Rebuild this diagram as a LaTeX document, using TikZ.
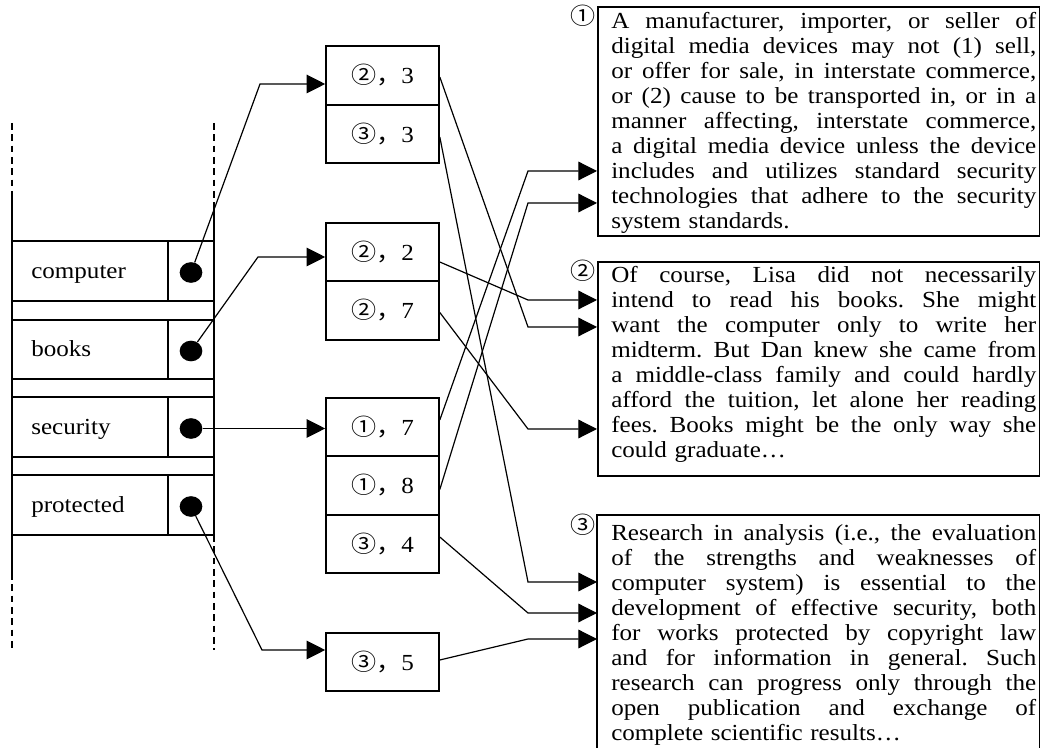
\documentclass[tikz,border=0pt]{standalone}
\usepackage{fontspec}
\setmainfont{Liberation Serif}[FakeStretch=1.09]
\newfontfamily\cjkfont{Noto Sans CJK SC}[FakeStretch=1.09]
\usetikzlibrary{arrows.meta,shapes.geometric}
\frenchspacing

% width of the justified paragraphs in the text boxes
\newlength\parawidth
\setlength\parawidth{318.75pt}
% one fully justified line of a paragraph: word spaces share the slack
\newcommand\jline[1]{\makebox[\parawidth][s]{\spaceskip=4.7pt plus 1fil\relax\strut #1}\\}

\begin{document}
\begin{tikzpicture}[x=0.75pt,y=-0.75pt,
  every node/.style={font=\fontsize{17.25}{18.75}\selectfont},
  rail/.style={line width=1.2pt},
  railgap/.style={line width=1.2pt, dash pattern=on 5pt off 3.5pt},
  frame/.style={line width=1.2pt},
  cell/.style={draw, line width=1.2pt, rectangle, minimum width=84.75pt,
               minimum height=43.875pt, inner sep=0pt},
  dot/.style={ellipse, fill=black, minimum width=17pt, minimum height=15.5pt, inner sep=0pt},
  lbl/.style={anchor=base west, inner sep=0pt},
  link/.style={line width=0.9pt},
  arr/.style={link, -{Triangle[length=14pt,width=14pt]}},
  txt/.style={anchor=north west, inner sep=0pt, text width=318.75pt, align=left},
  numlbl/.style={inner sep=0pt, font=\cjkfont\fontsize{17.25}{18.75}\selectfont},
  boxarea/.style={rectangle, anchor=north west, inner sep=0pt, minimum width=331.5pt},
]
\useasboundingbox (0,0) rectangle (1040,748);

% ---- index table on the left ----
\draw[rail] (12,195) -- (12,573);
\draw[railgap] (12,123) -- (12,195);
\draw[railgap] (12,573) -- (12,650);
\draw[rail] (214,205) -- (214,535);
\draw[railgap] (214,123) -- (214,205);
\draw[railgap] (214,535) -- (214,650);
\foreach \y in {241,301,320,379,397,457,475,535}
  \draw[rail] (12,\y) -- (214,\y);
\foreach \a/\b in {241/301,320/379,397/457,475/535}
  \draw[rail] (168,\a) -- (168,\b);

\node[lbl] (wcomp) at (31,278.5) {computer};
\node[lbl] (wbook) at (31,357) {books};
\node[lbl] (wsec)  at (31,435) {security};
\node[lbl] (wprot) at (31,512.5) {protected};

\node[dot] (dcomp) at (191,272.5) {};
\node[dot] (dbook) at (191,351) {};
\node[dot] (dsec)  at (191,428.5) {};
\node[dot] (dprot) at (191,506.5) {};

% ---- posting lists ----
\node[cell] (c23) at (382.5,75.5)  {{\cjkfont ②，}3};
\node[cell] (c33) at (382.5,134)   {{\cjkfont ③，}3};
\node[cell] (c22) at (382.5,252)   {{\cjkfont ②，}2};
\node[cell] (c27) at (382.5,310.5) {{\cjkfont ②，}7};
\node[cell] (c17) at (382.5,427)   {{\cjkfont ①，}7};
\node[cell] (c18) at (382.5,485.5) {{\cjkfont ①，}8};
\node[cell] (c34) at (382.5,544)   {{\cjkfont ③，}4};
\node[cell] (c35) at (382.5,662)   {{\cjkfont ③，}5};

% ---- documents ----
\node[boxarea, draw, frame, minimum height=171.75pt] (b1) at (597,6) {};
\node[boxarea, draw, frame, minimum height=160.5pt] (b2) at (597,261) {};
\node[boxarea, minimum height=174.75pt] (b3) at (597,515) {};
\draw[frame] (b3.south west) -- (b3.north west) -- (b3.north east) -- (b3.south east);

\node[numlbl] (n1) at (583,16)  {①};
\node[numlbl] (n2) at (583,271) {②};
\node[numlbl] (n3) at (583,525) {③};

\node[txt] (p1) at (611,10.5) {%
\jline{A manufacturer, importer, or seller of}
\jline{digital media devices may not (1) sell,}
\jline{or offer for sale, in interstate commerce,}
\jline{or (2) cause to be transported in, or in a}
\jline{manner affecting, interstate commerce,}
\jline{a digital media device unless the device}
\jline{includes and utilizes standard security}
\jline{technologies that adhere to the security}
\strut system standards.};

\node[txt] (p2) at (611,264.5) {%
\jline{Of course, Lisa did not necessarily}
\jline{intend to read his books. She might}
\jline{want the computer only to write her}
\jline{midterm. But Dan knew she came from}
\jline{a middle-class family and could hardly}
\jline{afford the tuition, let alone her reading}
\jline{fees. Books might be the only way she}
\strut could graduate…};

\node[txt] (p3) at (611,522.5) {%
\jline{Research in analysis (i.e., the evaluation}
\jline{of the strengths and weaknesses of}
\jline{computer system) is essential to the}
\jline{development of effective security, both}
\jline{for works protected by copyright law}
\jline{and for information in general. Such}
\jline{research can progress only through the}
\jline{open publication and exchange of}
\strut complete scientific results…};

% ---- terms to posting lists ----
\coordinate (k1) at (260,84);
\coordinate (k2) at (258,257);
\coordinate (k4) at (262,650);
\draw[arr] (dcomp) -- (k1) -- (k1 -| c23.west);
\draw[arr] (dbook) -- (k2) -- (k2 -| c22.west);
\draw[arr] (dsec) -- (dsec -| c17.west);
\draw[arr] (dprot) -- (k4) -- (k4 -| c35.west);

% ---- postings to documents ----
\coordinate (r1) at (528,171);
\coordinate (r2) at (528,203);
\coordinate (r3) at (528,300);
\coordinate (r4) at (528,327);
\coordinate (r5) at (528,429);
\coordinate (r6) at (528,582);
\coordinate (r7) at (528,613);
\coordinate (r8) at (528,639);
\draw[arr] ([yshift=5.25pt]c17.east) -- (r1) -- (r1 -| b1.west);
\draw[arr] ([yshift=-3pt]c18.east) -- (r2) -- (r2 -| b1.west);
\draw[arr] ([yshift=-7.5pt]c22.east) -- (r3) -- (r3 -| b2.west);
\draw[arr] ([yshift=-1.1pt]c23.east) -- (r4) -- (r4 -| b2.west);
\draw[arr] ([yshift=-1.5pt]c27.east) -- (r5) -- (r5 -| b2.west);
\draw[arr] ([yshift=-2.25pt]c33.east) -- (r6) -- (r6 -| b3.west);
\draw[arr] ([yshift=5.25pt]c34.east) -- (r7) -- (r7 -| b3.west);
\draw[arr] ([yshift=1.5pt]c35.east) -- (r8) -- (r8 -| b3.west);
\end{tikzpicture}
\end{document}
